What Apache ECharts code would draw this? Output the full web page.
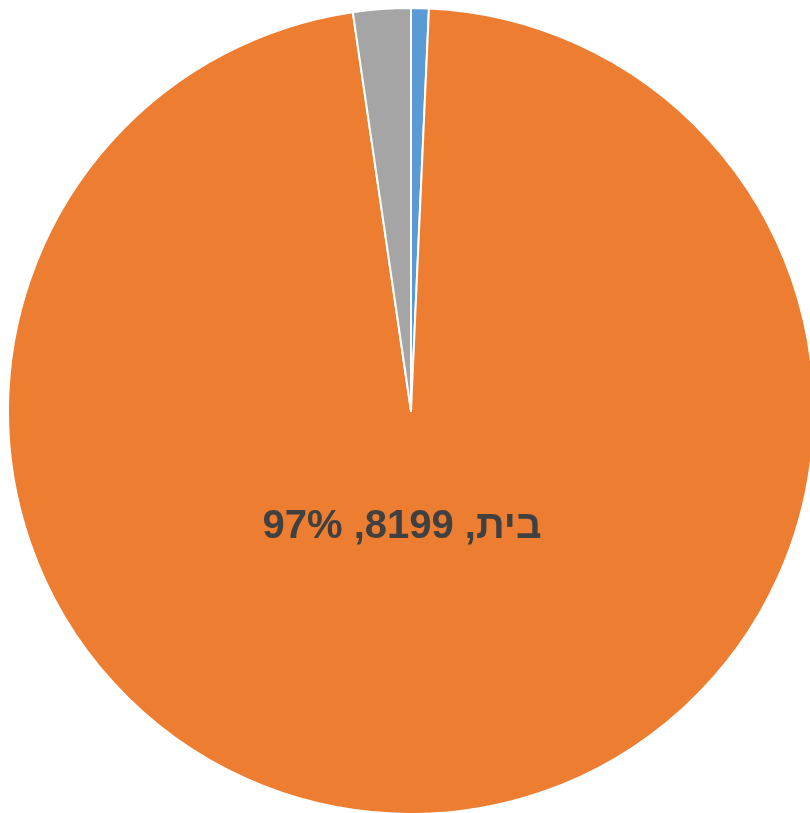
<!DOCTYPE html>
<html>
<head>
<meta charset="utf-8">
<script src="https://cdn.jsdelivr.net/npm/echarts@6/dist/echarts.min.js"></script>
<style>
html,body{margin:0;padding:0;background:#fff;}
#chart{width:810px;height:813px;}
</style>
</head>
<body>
<div id="chart" dir="rtl"></div>
<script>
const names = ['בית', 'אחר', 'לא ידוע'];
const values = [8199, 195, 60];
const colors = ['#ED7D31', '#A5A5A5', '#5B9BD5'];
// order clockwise from top: blue, orange, gray
const order = [2, 0, 1];

const chart = echarts.init(document.getElementById('chart'));
const data = order.map(i => ({
  name: names[i],
  value: values[i],
  itemStyle: {color: colors[i]},
  label: i === 0 ? {show: true} : {show: false}
}));
chart.setOption({
  animation: false,
  series: [{
    type: 'pie',
    center: [411, 411],
    radius: 403,
    startAngle: 90,
    clockwise: true,
    avoidLabelOverlap: false,
    itemStyle: {borderColor: '#fff', borderWidth: 2},
    label: {
      position: 'center',
      offset: [-9, 116],
      formatter: p => p.name + ', ' + p.value + ', ' + Math.round(p.percent) + '%',
      fontFamily: 'Liberation Sans, Arial, sans-serif',
      fontWeight: 'bold',
      fontSize: 40,
      color: '#404040'
    },
    labelLine: {show: false},
    emphasis: {disabled: true},
    data: data
  }]
});
</script>
</body>
</html>
